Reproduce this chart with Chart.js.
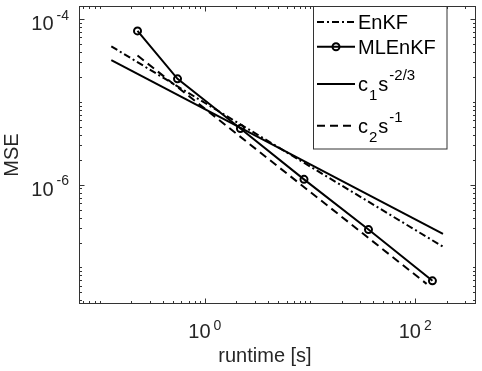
<!DOCTYPE html>
<html>
<head>
<meta charset="utf-8">
<script src="https://cdn.jsdelivr.net/npm/chart.js"></script>
<style>
html, body { margin: 0; padding: 0; background: #fff; }
canvas { display: block; }
</style>
</head>
<body>
<canvas id="mseChart" width="482" height="371"></canvas>
<script>
// data (runtime in s, MSE)
const runtimeMLEnKF = [0.229, 0.55, 2.18, 8.77, 36, 146];
const mseMLEnKF = [7.2e-5, 1.9e-5, 4.77e-6, 1.16e-6, 2.87e-7, 6.9e-8];
const runtimeEnKF = [0.129, 184];
const mseEnKF = [4.69e-5, 1.78e-7];
const runtimeRate23 = [0.129, 184];
const mseRate23 = [3.2e-5, 2.54e-7];
const runtimeRate1 = [0.229, 128.5];
const mseRate1 = [3.63e-5, 6.34e-8];

// axis limits and labelled ticks
const xLimits = [0.0636, 379];
const yLimits = [3.62e-8, 1.44e-4];
const xTickLabels = [1, 100];
const yTickLabels = [1e-4, 1e-6];
const xTitle = 'runtime [s]';
const yTitle = 'MSE';

// legend text, split in pieces: [text, 'n' | 'sub' | 'sup']
const legendLabels = [
    [['EnKF', 'n']],
    [['MLEnKF', 'n']],
    [['c', 'n'], ['1', 'sub'], ['s', 'n'], ['-2/3', 'sup']],
    [['c', 'n'], ['2', 'sub'], ['s', 'n'], ['-1', 'sup']]
];

const FONT = "'Liberation Sans', Arial, Helvetica, sans-serif";

function pts(xs, ys) {
    return xs.map((x, i) => ({ x: x, y: ys[i] }));
}

// exponent of a power of ten, as text
function expText(v) {
    return String(Math.round(Math.log10(v))).replace('-', '-');
}

// draws box, inward ticks, tick labels and axis titles
const axesBox = {
    id: 'axesBox',
    afterDatasetsDraw(chart) {
        const ctx = chart.ctx;
        const a = chart.chartArea;
        const xs = chart.scales.x, ys = chart.scales.y;
        const L = Math.round(a.left) + 0.5, R = Math.round(a.right) - 0.5;
        const T = Math.round(a.top) + 0.5, B = Math.round(a.bottom) - 0.5;
        ctx.save();
        ctx.strokeStyle = '#333';
        ctx.lineWidth = 1;
        ctx.strokeRect(L, T, R - L, B - T);

        ctx.beginPath();
        for (let d = -2; d <= 3; d++) {
            for (let m = 1; m <= 9; m++) {
                const v = m * Math.pow(10, d);
                const px = Math.round(xs.getPixelForValue(v)) + 0.5;
                if (px <= L + 1 || px >= R - 1) continue;
                const len = xTickLabels.some(t => Math.abs(t - v) < 1e-9 * t) ? 5 : 2.5;
                ctx.moveTo(px, B); ctx.lineTo(px, B - len);
                ctx.moveTo(px, T); ctx.lineTo(px, T + len);
            }
        }
        for (let d = -9; d <= -3; d++) {
            for (let m = 1; m <= 9; m++) {
                const v = m * Math.pow(10, d);
                const py = Math.round(ys.getPixelForValue(v)) + 0.5;
                if (py <= T + 1 || py >= B - 1) continue;
                const len = yTickLabels.some(t => Math.abs(t - v) < 1e-9 * t) ? 5 : 2.5;
                ctx.moveTo(L, py); ctx.lineTo(L + len, py);
                ctx.moveTo(R, py); ctx.lineTo(R - len, py);
            }
        }
        ctx.stroke();

        ctx.fillStyle = '#262626';
        ctx.textBaseline = 'alphabetic';
        ctx.textAlign = 'left';
        const big = '20px ' + FONT, small = '14px ' + FONT;

        // y tick labels, 10 with superscript exponent
        yTickLabels.forEach(v => {
            const py = ys.getPixelForValue(v);
            const e = expText(v);
            ctx.font = small;
            const we = ctx.measureText(e).width;
            ctx.font = big;
            const wb = ctx.measureText('10').width;
            const right = a.left - 10;
            ctx.fillText('10', right - we - 3 - wb, py + 11);
            ctx.font = small;
            ctx.fillText(e, right - we, py + 0.5);
        });

        // x tick labels
        xTickLabels.forEach(v => {
            const px = xs.getPixelForValue(v);
            const e = expText(v);
            ctx.font = small;
            const we = ctx.measureText(e).width;
            ctx.font = big;
            const wb = ctx.measureText('10').width;
            const left = px - (wb + 3 + we) / 2;
            ctx.fillText('10', left, 338);
            ctx.font = small;
            ctx.fillText(e, left + wb + 3, 330);
        });

        // axis titles
        ctx.font = big;
        ctx.textAlign = 'center';
        ctx.fillText(xTitle, 265, 362);
        ctx.save();
        ctx.translate(18, (a.top + a.bottom) / 2);
        ctx.rotate(-Math.PI / 2);
        ctx.fillText(yTitle, 0, 0);
        ctx.restore();
        ctx.restore();
    }
};

// MATLAB-like legend box in the upper right
const boxLegend = {
    id: 'boxLegend',
    afterDraw(chart) {
        const ctx = chart.ctx;
        const rowY = [22, 46.7, 84, 125.7];
        ctx.save();
        ctx.fillStyle = '#fff';
        ctx.fillRect(313.5, 6.5, 133.5, 142.5);
        ctx.strokeStyle = '#333';
        ctx.lineWidth = 1;
        ctx.strokeRect(313.5, 6.5, 133.5, 142.5);

        chart.data.datasets.forEach((ds, i) => {
            const y = rowY[i];
            ctx.save();
            ctx.strokeStyle = ds.borderColor;
            ctx.lineWidth = ds.borderWidth;
            ctx.setLineDash(ds.borderDash || []);
            ctx.beginPath();
            ctx.moveTo(317, y);
            ctx.lineTo(355, y);
            ctx.stroke();
            ctx.setLineDash([]);
            if (ds.pointRadius > 0) {
                ctx.lineWidth = ds.pointBorderWidth;
                ctx.beginPath();
                ctx.arc(336, y, 3.5, 0, Math.PI * 2);
                ctx.stroke();
            }
            ctx.restore();

            let x = 358;
            const base = y + 7;
            ctx.fillStyle = '#000';
            legendLabels[i].forEach(([t, kind]) => {
                if (kind === 'n') {
                    ctx.font = '20px ' + FONT;
                    ctx.fillText(t, x, base);
                    x += ctx.measureText(t).width;
                } else {
                    ctx.font = '15px ' + FONT;
                    ctx.fillText(t, x + 1, kind === 'sub' ? base + 9 : base - 11);
                    x += ctx.measureText(t).width + 2;
                }
            });
        });
        ctx.restore();
    }
};

const lineBase = { showLine: true, borderColor: '#000', borderWidth: 2, pointRadius: 0, fill: false };

new Chart(document.getElementById('mseChart').getContext('2d'), {
    type: 'scatter',
    data: {
        datasets: [
            Object.assign({}, lineBase, { label: 'EnKF', data: pts(runtimeEnKF, mseEnKF), borderDash: [7, 3, 2, 3] }),
            Object.assign({}, lineBase, {
                label: 'MLEnKF', data: pts(runtimeMLEnKF, mseMLEnKF),
                pointRadius: 3.5, pointStyle: 'circle', pointBorderWidth: 2,
                pointBorderColor: '#000', pointBackgroundColor: 'rgba(0,0,0,0)'
            }),
            Object.assign({}, lineBase, { label: 'c1 s^-2/3', data: pts(runtimeRate23, mseRate23) }),
            Object.assign({}, lineBase, { label: 'c2 s^-1', data: pts(runtimeRate1, mseRate1), borderDash: [8, 5] })
        ]
    },
    options: {
        responsive: false,
        animation: false,
        layout: { padding: { left: 79, right: 1, top: 1, bottom: 67 } },
        scales: {
            x: { type: 'logarithmic', min: xLimits[0], max: xLimits[1], display: false },
            y: { type: 'logarithmic', min: yLimits[0], max: yLimits[1], display: false }
        },
        plugins: {
            legend: { display: false },
            tooltip: { enabled: false }
        }
    },
    plugins: [axesBox, boxLegend]
});
</script>
</body>
</html>
